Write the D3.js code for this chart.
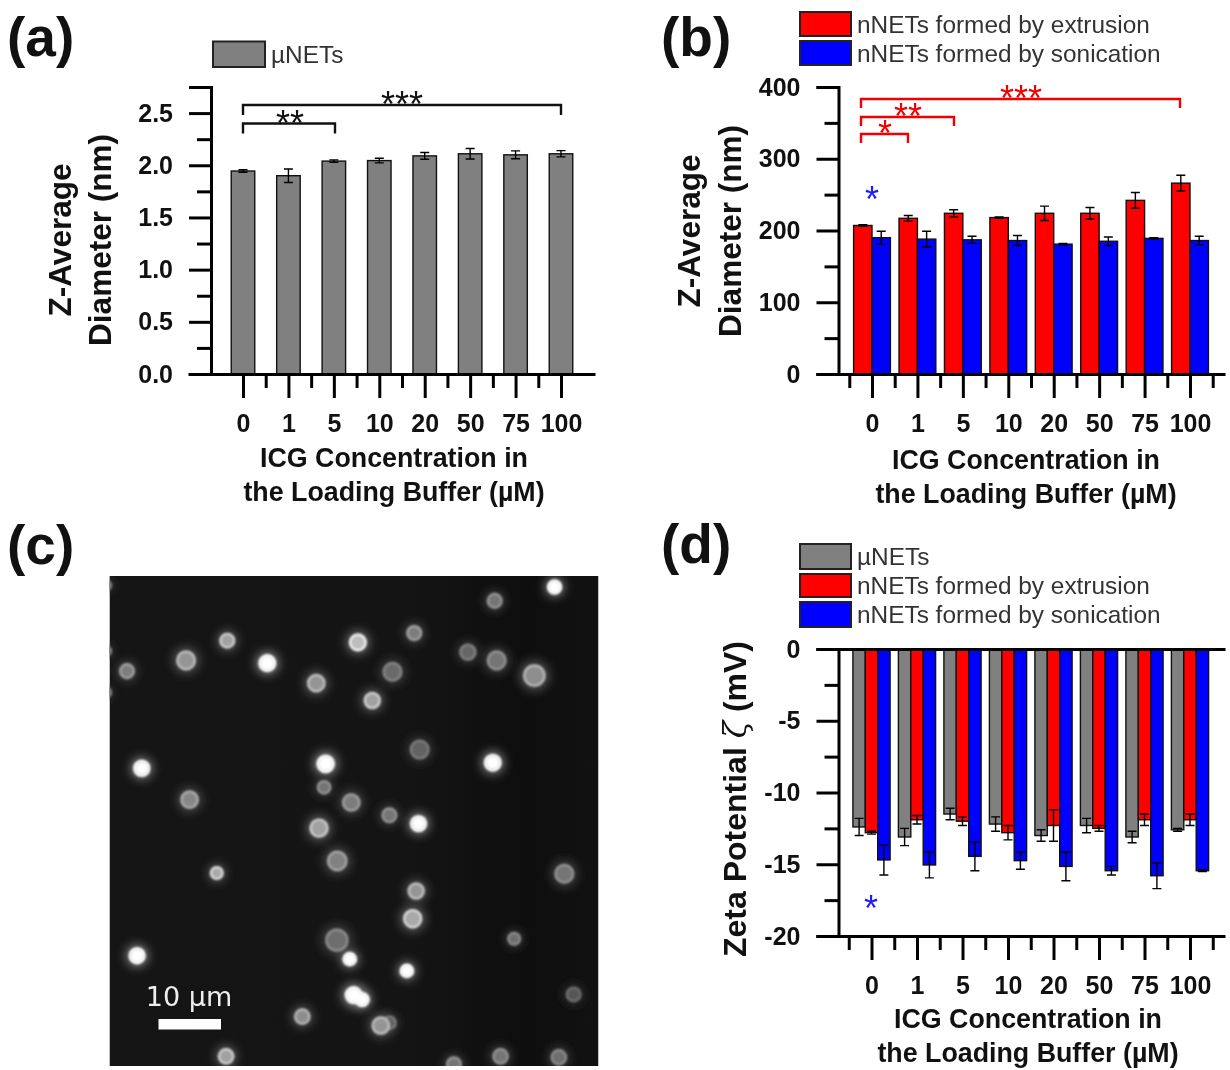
<!DOCTYPE html>
<html><head><meta charset="utf-8">
<script src="https://cdnjs.cloudflare.com/ajax/libs/d3/7.8.5/d3.min.js"></script>
<style>
html,body{margin:0;padding:0;background:#fff}
svg{display:block;filter:blur(0.6px)}
text{font-family:"Liberation Sans",Arial,sans-serif;fill:#111}
.bold{font-weight:700}
.tick text{font-family:"Liberation Sans",Arial,sans-serif;font-weight:700;font-size:25px;fill:#111}
.axis path,.axis line{stroke:#000;stroke-width:3px}
.err{stroke:#000;stroke-width:1.4px;fill:none}
</style></head><body>
<svg id="c" width="1230" height="1070"></svg>
<script>
const categories=["0","1","5","10","20","50","75","100"];
// (a)
const aMicro=[1.945,1.90,2.04,2.045,2.09,2.11,2.10,2.11];
const aMicroErr=[0.012,0.065,0.012,0.022,0.032,0.05,0.038,0.03];
// (b)
const bExtr=[207,217,224,218,224,224,242,266];
const bExtrErr=[1,4,5,1,10,8,11,11];
const bSon=[190,188,187,186,181,185,189,186];
const bSonErr=[9,11,5,7,1,6,1,6];
// (d)
const dMicro=[-12.4,-13.1,-11.5,-12.2,-13.0,-12.3,-13.1,-12.6];
const dMicroErr=[0.6,0.6,0.4,0.5,0.4,0.5,0.4,0.1];
const dExtr=[-12.8,-11.9,-12.0,-12.8,-12.3,-12.5,-11.9,-11.9];
const dExtrErr=[0.1,0.3,0.3,0.5,1.1,0.2,0.4,0.4];
const dSon=[-14.7,-15.05,-14.45,-14.75,-15.15,-15.45,-15.8,-15.45];
const dSonErr=[1.05,0.9,1.0,0.6,1.0,0.3,0.9,0.05];
// (c) micrograph particles: [x, y, radius, brightness] in image pixels (1258 x 1417 grid)
const particles=[[1145,32,20,1],[991,72,21,.45],[784,165,21,.5],[303,187,21,.68],[639,192,24,.82],[197,244,27,.62],[406,252,24,1],[45,275,21,.5],[532,310,25,.62],[728,277,27,.4],[676,360,23,.68],[922,220,23,.38],[996,244,27,.45],[1093,288,31,.58],[798,502,27,.36],[83,556,23,.95],[556,543,25,1],[986,540,24,.95],[552,611,19,.45],[206,647,25,.55],[622,655,25,.5],[720,692,21,.45],[795,716,23,.95],[539,729,26,.68],[586,824,28,.52],[276,859,18,.72],[1170,861,27,.45],[789,911,23,.62],[780,991,26,.72],[1041,1049,18,.42],[585,1053,32,.42],[71,1098,23,1],[618,1108,19,1],[765,1142,19,1],[628,1212,24,1],[650,1225,20,1],[1194,1210,21,.3],[496,1274,22,.58],[720,1292,19,.35],[698,1300,25,.62],[300,1389,22,.68],[886,1412,21,.45],[1006,1389,22,.45],[1156,1392,22,.42],[-8,27,14,.4],[-8,217,14,.4],[-8,337,14,.4]];
const scaleBarMicrons=10;

const svg=d3.select("#c");
const defs=svg.append("defs");
defs.append("filter").attr("id","glow").attr("x","-100%").attr("y","-100%").attr("width","300%").attr("height","300%")
  .append("feGaussianBlur").attr("stdDeviation",5);
defs.append("filter").attr("id","soft").attr("x","-50%").attr("y","-50%").attr("width","200%").attr("height","200%")
  .append("feGaussianBlur").attr("stdDeviation",1.3);
const bgGrad=defs.append("linearGradient").attr("id","bg");
[[0,"#151515"],[.62,"#141414"],[.85,"#0e0e0e"],[1,"#121212"]].forEach(s=>bgGrad.append("stop").attr("offset",s[0]).attr("stop-color",s[1]));
const clip=defs.append("clipPath").attr("id","imgclip");

function panelLetter(t,x,y){svg.append("text").attr("class","bold").attr("x",x).attr("y",y).attr("font-size",55).text(t);}
function multi(lines,cx,ys,size){lines.forEach((l,i)=>svg.append("text").attr("class","bold").attr("text-anchor","middle").attr("x",cx).attr("y",ys[i]).attr("font-size",size).text(l));}
function rotated(t,x,y,size){return svg.append("text").attr("class","bold").attr("text-anchor","middle").attr("transform",`translate(${x},${y}) rotate(-90)`).attr("font-size",size).text(t);}
function star(t,x,y,color,size){svg.append("text").attr("text-anchor","middle").attr("x",x).attr("y",y).attr("font-size",size||36).style("fill",color).text(t);}
function legend(items,x0,x1,tx,fs){items.forEach(d=>{
  svg.append("rect").attr("x",x0).attr("y",d.y0).attr("width",x1-x0).attr("height",d.y1-d.y0).attr("fill",d.c).attr("stroke","#222").attr("stroke-width",2);
  svg.append("text").attr("x",tx).attr("y",(d.y0+d.y1)/2+fs*0.36).attr("font-size",fs).style("fill","#333").text(d.t);
});}
function bracket(x1,x2,y,d,color){svg.append("path").attr("d",d3.line()([[x1,y+d],[x1,y],[x2,y],[x2,y+d]])).attr("fill","none").attr("stroke",color).attr("stroke-width",2.4);}

function chart(o){
  const g=svg.append("g");
  const x=d3.scaleLinear().domain([0,7]).range(o.xr);
  const y=d3.scaleLinear().domain(o.yd).range(o.yr);
  const xAxisScale=d3.scaleLinear().domain([x.invert(o.axX[0]),x.invert(o.axX[1])]).range(o.axX);
  const baseY=o.baseY;
  const n=o.series.length;
  o.series.forEach((s,k)=>{
    const off=i=>x(i)+(k-n/2)*o.bw;
    g.selectAll(null).data(s.v).join("rect")
      .attr("x",(d,i)=>off(i)).attr("width",o.bw)
      .attr("y",d=>Math.min(y(d),y(0))).attr("height",d=>Math.abs(y(d)-y(0)))
      .attr("fill",s.c).attr("stroke","#111").attr("stroke-width",1.4);
  });
  o.series.forEach((s,k)=>{
    s.v.forEach((d,i)=>{
      const cx=x(i)+(k-n/2+.5)*o.bw, hi=y(d+s.e[i]), lo=y(d-s.e[i]), c=4.5;
      g.append("path").attr("class","err").attr("d",`M${cx-c},${hi}H${cx+c}M${cx},${hi}V${lo}M${cx-c},${lo}H${cx+c}`);
    });
  });
  const ya=g.append("g").attr("class","axis").attr("transform",`translate(${o.axisLeft},0)`);
  ya.call(d3.axisLeft(y).tickValues(o.yMajor).tickSize(22).tickPadding(16).tickFormat(o.yFmt));
  ya.append("g").call(d3.axisLeft(y).tickValues(o.yMinor).tickSize(14).tickFormat("")).select(".domain").remove();
  const xa=g.append("g").attr("class","axis").attr("transform",`translate(0,${baseY})`);
  xa.call(d3.axisBottom(xAxisScale).tickValues(d3.range(8)).tickSize(24).tickSizeOuter(0).tickPadding(o.xPad).tickFormat(i=>categories[i]));
  xa.append("g").call(d3.axisBottom(xAxisScale).tickValues(o.xMinor).tickSize(14).tickSizeOuter(0).tickFormat("")).select(".domain").remove();
  if(o.topLine){g.append("g").attr("class","axis").attr("transform",`translate(0,${y(0)})`).call(d3.axisBottom(xAxisScale).tickValues([]).tickSizeOuter(0));}
}

// ---------- (a)
panelLetter("(a)",7,56);
legend([{y0:41.5,y1:67,c:"#808080",t:"µNETs"}],213,265,271,24.4);
chart({xr:[243,561],axX:[188,595],yd:[0,2.75],yr:[374,87],axisLeft:211,baseY:374,bw:23.5,
  series:[{v:aMicro,e:aMicroErr,c:"#808080"}],
  yMajor:[0,.5,1,1.5,2,2.5],yMinor:[.25,.75,1.25,1.75,2.25,2.75],yFmt:d3.format(".1f"),
  xMinor:[.5,1.5,2.5,3.5,4.5,5.5,6.5],xPad:16});
rotated("Z-Average",71,240,31.5);
rotated("Diameter (nm)",111,240,31.5);
multi(["ICG Concentration in","the Loading Buffer (µM)"],394,[467,501],26.8);
bracket(243,561,105,10,"#111");
bracket(243,335,123.5,10,"#111");
star("***",402,117,"#111");star("**",290,136,"#111");

// ---------- (b)
panelLetter("(b)",661,56);
legend([{y0:12,y1:36,c:"#ff0000",t:"nNETs formed by extrusion"},{y0:41,y1:65,c:"#0000ff",t:"nNETs formed by sonication"}],800,851,857,24.4);
chart({xr:[872,1190],axX:[816,1225],yd:[0,400],yr:[374,87],axisLeft:838.5,baseY:374,bw:18.4,
  series:[{v:bExtr,e:bExtrErr,c:"#ff0000"},{v:bSon,e:bSonErr,c:"#0000ff"}],
  yMajor:[0,100,200,300,400],yMinor:[50,150,250,350],yFmt:d3.format("d"),
  xMinor:[-.5,.5,1.5,2.5,3.5,4.5,5.5,6.5,7.5],xPad:16});
rotated("Z-Average",700,231,31.5);
rotated("Diameter (nm)",741,231,31.5);
multi(["ICG Concentration in","the Loading Buffer (µM)"],1026,[469,503],26.8);
bracket(861,1180,99,9,"#f00000");
bracket(861,954,117,9,"#f00000");
bracket(861,908,134,9,"#f00000");
star("***",1021,111,"#f00000");star("**",908,129,"#f00000");star("*",885,146,"#f00000");
star("*",872,212,"#1a1aff");

// ---------- (c)
panelLetter("(c)",7,564);
{
  const L=109.5,R=598.5,T=576,B=1066;
  const px=d3.scaleLinear().domain([0,1258]).range([L,R]);
  const py=d3.scaleLinear().domain([0,1417]).range([T,B]);
  const micron=d3.scaleLinear().domain([0,10]).range([0,62.5]);
  clip.append("rect").attr("x",L).attr("y",T).attr("width",R-L).attr("height",B-T);
  const g=svg.append("g").attr("clip-path","url(#imgclip)");
  g.append("rect").attr("x",L).attr("y",T).attr("width",R-L).attr("height",B-T).attr("fill","url(#bg)");
  const grey=d3.scaleLinear().domain([0,1]).range([30,255]);
  const col=(b,k)=>{const v=Math.min(255,Math.round(grey(b)*k));return `rgb(${v},${v},${v})`;};
  const rr=d=>px(d[2])-px(0);
  g.selectAll(null).data(particles).join("circle").attr("cx",d=>px(d[0])).attr("cy",d=>py(d[1]))
    .attr("r",d=>rr(d)*1.3).attr("fill",d=>col(d[3],.45)).attr("filter","url(#glow)");
  g.selectAll(null).data(particles).join("circle").attr("cx",d=>px(d[0])).attr("cy",d=>py(d[1]))
    .attr("r",d=>rr(d)*.85).attr("fill",d=>col(d[3],.88)).attr("stroke",d=>col(d[3],1.15)).attr("stroke-width",2.2).attr("filter","url(#soft)");
  g.selectAll(null).data(particles.filter(d=>d[3]>=.9)).join("circle").attr("cx",d=>px(d[0])).attr("cy",d=>py(d[1]))
    .attr("r",d=>rr(d)*.65).attr("fill","#fff").attr("filter","url(#soft)");
  g.append("rect").attr("x",158.5).attr("y",1019).attr("width",micron(scaleBarMicrons)).attr("height",10.5).attr("fill","#fff");
  g.append("text").attr("x",189).attr("y",1006).attr("text-anchor","middle").attr("font-size",27).style("font-family","'DejaVu Sans',sans-serif").style("fill","#eee").text("10 µm");
}

// ---------- (d)
panelLetter("(d)",661,563);
legend([{y0:544,y1:569,c:"#808080",t:"µNETs"},{y0:574,y1:597,c:"#ff0000",t:"nNETs formed by extrusion"},{y0:602,y1:627,c:"#0000ff",t:"nNETs formed by sonication"}],800,851,857,24.4);
chart({xr:[871.5,1190],axX:[816,1225],yd:[-20,0],yr:[936,649],axisLeft:838.5,baseY:936,bw:12.4,
  series:[{v:dMicro,e:dMicroErr,c:"#808080"},{v:dExtr,e:dExtrErr,c:"#ff0000"},{v:dSon,e:dSonErr,c:"#0000ff"}],
  yMajor:[0,-5,-10,-15,-20],yMinor:[-2.5,-7.5,-12.5,-17.5],yFmt:d=>String(d),
  xMinor:[-.5,.5,1.5,2.5,3.5,4.5,5.5,6.5,7.5],xPad:16,topLine:true});
{
  const t=svg.append("text").attr("class","bold").attr("text-anchor","middle").attr("transform","translate(746,799) rotate(-90)").attr("font-size",32);
  t.append("tspan").text("Zeta Potential ");
  t.append("tspan").attr("font-style","italic").attr("font-weight",400).attr("font-family","'DejaVu Serif',serif").text("ζ");
  t.append("tspan").text(" (mV)");
}
multi(["ICG Concentration in","the Loading Buffer (µM)"],1028,[1028,1062],26.8);
star("*",871,921,"#1a1aff");
</script>
</body></html>
